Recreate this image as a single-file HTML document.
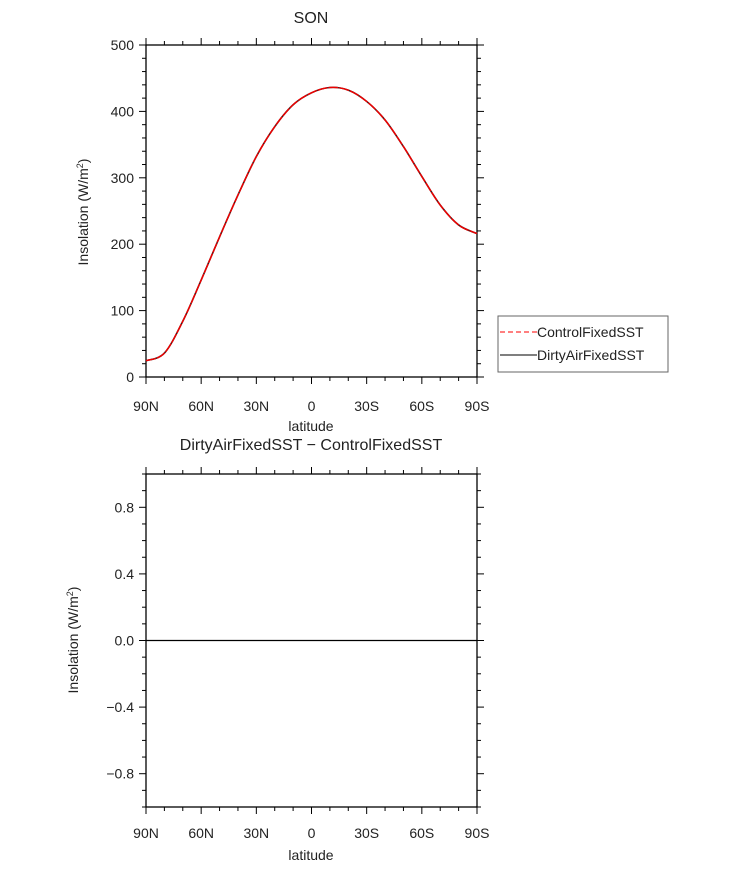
<!DOCTYPE html>
<html><head><meta charset="utf-8"><style>
body{margin:0;background:#fff}
svg text{font-family:"Liberation Sans",sans-serif;fill:#222}
</style></head><body>
<svg id="c" width="733" height="866" xmlns="http://www.w3.org/2000/svg">
<text x="311" y="23" font-size="16" text-anchor="middle">SON</text>
<text x="311" y="450" font-size="16" text-anchor="middle">DirtyAirFixedSST − ControlFixedSST</text>
<text transform="translate(88,212) rotate(-90)" font-size="14" text-anchor="middle">Insolation (W/m<tspan font-size="9" dy="-5">2</tspan><tspan dy="5">)</tspan></text>
<text transform="translate(78,640) rotate(-90)" font-size="14" text-anchor="middle">Insolation (W/m<tspan font-size="9" dy="-5">2</tspan><tspan dy="5">)</tspan></text>
<text x="311" y="431" font-size="14" text-anchor="middle">latitude</text>
<text x="311" y="860" font-size="14" text-anchor="middle">latitude</text>
<g>
<rect x="498" y="316" width="170" height="56" fill="#fff" stroke="#666" stroke-width="1"/>
<line x1="500" y1="332" x2="537" y2="332" stroke="#f33" stroke-width="1.3" stroke-dasharray="5,3"/>
<text x="537" y="337" font-size="14">ControlFixedSST</text>
<line x1="500" y1="355" x2="537" y2="355" stroke="#333" stroke-width="1.3"/>
<text x="537" y="360" font-size="14">DirtyAirFixedSST</text>
</g>
</svg>
<script>
const lats=[90,80,70,60,50,40,30,20,10,0,-10,-20,-30,-40,-50,-60,-70,-80,-90];
const control=[24.5,36,84,146,211,274,332,377,410,428,436,432,415,387,347,302,259,229,216];
const dirty=[24.5,36,84,146,211,274,332,377,410,428,436,432,415,387,347,302,259,229,216];
const diff=dirty.map((v,i)=>v-control[i]);
const xTickLabels=["90N","60N","30N","0","30S","60S","90S"];
const topYTicks=[0,100,200,300,400,500];
const botYTicks=[-0.8,-0.4,0.0,0.4,0.8];
const svg=document.getElementById('c');
const NS="http://www.w3.org/2000/svg";
const X0=146,X1=477;
const xs=l=>X0+(90-l)/180*(X1-X0);
function mk(t,a,p){const e=document.createElementNS(NS,t);for(const k in a)e.setAttribute(k,a[k]);(p||svg).appendChild(e);return e;}
function smooth(pts){let d=`M${pts[0][0]},${pts[0][1]}`;for(let i=0;i<pts.length-1;i++){const p0=pts[i-1]||pts[i],p1=pts[i],p2=pts[i+1],p3=pts[i+2]||p2;
d+=` C${p1[0]+(p2[0]-p0[0])/6},${p1[1]+(p2[1]-p0[1])/6} ${p2[0]-(p3[0]-p1[0])/6},${p2[1]-(p3[1]-p1[1])/6} ${p2[0]},${p2[1]}`;}return d;}
function panel(Y0,Y1,ymin,ymax,yt,minorStep,fmt,name,labY){
 const ys=v=>Y1-(v-ymin)/(ymax-ymin)*(Y1-Y0);
 const g=mk('g',{});
 
 
 mk('rect',{x:X0,y:Y0,width:X1-X0,height:Y1-Y0,fill:'none',stroke:'#000','stroke-width':1.3},g);
 for(let l=-90;l<=90;l+=10){const x=xs(l),L=l%30==0?7:4;
  mk('line',{x1:x,y1:Y1,x2:x,y2:Y1+L,stroke:'#000','stroke-width':1},g);
  mk('line',{x1:x,y1:Y0,x2:x,y2:Y0-L,stroke:'#000','stroke-width':1},g);}
 xTickLabels.forEach((s,i)=>{const t=mk('text',{x:xs(90-30*i),y:labY,'font-size':14,'text-anchor':'middle'},g);t.textContent=s;
  
  });
 const n=Math.round((ymax-ymin)/minorStep);
 for(let i=0;i<=n;i++){const v=ymin+i*minorStep,y=ys(v);const maj=yt.some(t=>Math.abs(t-v)<1e-9);const L=maj?7:4;
  mk('line',{x1:X0,y1:y,x2:X0-L,y2:y,stroke:'#000','stroke-width':1},g);
  mk('line',{x1:X1,y1:y,x2:X1+L,y2:y,stroke:'#000','stroke-width':1},g);}
 yt.forEach(v=>{const t=mk('text',{x:X0-12,y:ys(v)+5,'font-size':14,'text-anchor':'end'},g);t.textContent=fmt(v);
  
  });
 return ys;}
const ysT=panel(45,377,0,500,topYTicks,20,v=>String(v),'top',411);
const ysB=panel(474,807,-1,1,botYTicks,0.1,v=>(v<0?'−':'')+Math.abs(v).toFixed(1),'bottom',838);
const p1=mk('path',{d:smooth(lats.map((l,i)=>[xs(l),ysT(dirty[i])])),fill:'none',stroke:'#222','stroke-width':1.6});


const p2=mk('path',{d:smooth(lats.map((l,i)=>[xs(l),ysT(control[i])])),fill:'none',stroke:'#e00','stroke-width':1.5,'stroke-dasharray':'10,1'});


const p3=mk('path',{d:'M'+lats.map((l,i)=>xs(l)+','+ysB(diff[i])).join(' L'),fill:'none',stroke:'#000','stroke-width':1.3});


</script>
</body></html>
